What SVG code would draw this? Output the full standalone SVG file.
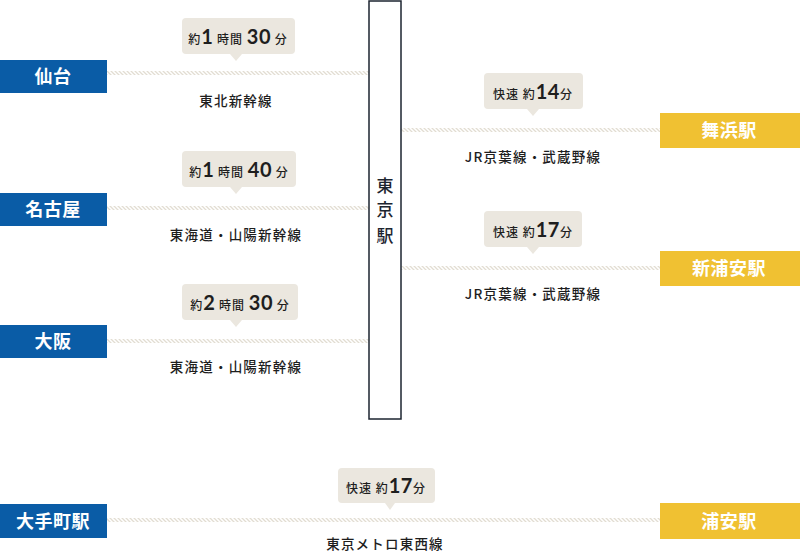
<svg xmlns="http://www.w3.org/2000/svg" width="800" height="554" viewBox="0 0 800 554">
  <defs>
    <pattern id="hatch" patternUnits="userSpaceOnUse" width="4" height="4">
      <path d="M-1,-1 L5,5 M-1,3 L1,5 M3,-1 L5,1" stroke="#e2ddd2" stroke-width="1.3"/>
    </pattern>
    <style>
      .st-blue { fill: #0a5ca6; }
      .st-yellow { fill: #f0c132; }
      .st-label { font-family: "Noto Sans CJK JP", "Noto Sans", sans-serif; font-size: 18px; font-weight: 700; fill: #ffffff; text-anchor: middle; letter-spacing: 0.5px; }
      .bubble { fill: #ebe7df; }
      .btxt { font-family: "Noto Sans CJK JP", "Noto Sans", sans-serif; font-size: 12px; font-weight: 500; fill: #1e1e1e; text-anchor: middle; letter-spacing: 1px; }
      .num { font-family: "Lato", "Inter", sans-serif; font-size: 20px; font-weight: 700; letter-spacing: 0.5px; }
      .line-name { font-family: "Noto Sans CJK JP", "Noto Sans", sans-serif; font-size: 13.5px; font-weight: 500; fill: #1e1e1e; text-anchor: middle; letter-spacing: 1.2px; }
      .track { fill: url(#hatch); }
      .hub-text { font-family: "Noto Sans CJK JP", "Noto Sans", sans-serif; font-size: 17px; font-weight: 500; fill: #1d2530; text-anchor: middle; }
    </style>
  </defs>

  <!-- track lines -->
  <g id="connectors">
    <rect class="track" x="107" y="71" width="262" height="4"/>
    <rect class="track" x="107" y="206" width="262" height="4"/>
    <rect class="track" x="107" y="339" width="262" height="4"/>
    <rect class="track" x="401" y="128" width="259" height="4"/>
    <rect class="track" x="401" y="266" width="259" height="4"/>
    <rect class="track" x="107" y="518" width="553" height="4"/>
  </g>

  <!-- Tokyo station hub -->
  <g id="tokyo">
    <rect x="369" y="1" width="32" height="418" fill="#ffffff" stroke="#1d2530" stroke-width="1.5"/>
    <text class="hub-text" x="385" y="192">東</text>
    <text class="hub-text" x="385" y="216">京</text>
    <text class="hub-text" x="385" y="242">駅</text>
  </g>

  <!-- left stations -->
  <g id="sendai">
    <rect class="st-blue" x="0" y="60" width="107" height="33"/>
    <text class="st-label" x="53" y="83">仙台</text>
  </g>
  <g id="nagoya">
    <rect class="st-blue" x="0" y="193" width="107" height="33"/>
    <text class="st-label" x="53" y="216">名古屋</text>
  </g>
  <g id="osaka">
    <rect class="st-blue" x="0" y="325" width="107" height="33"/>
    <text class="st-label" x="53" y="348">大阪</text>
  </g>
  <g id="otemachi">
    <rect class="st-blue" x="0" y="504" width="107" height="34"/>
    <text class="st-label" x="53" y="528">大手町駅</text>
  </g>

  <!-- right stations -->
  <g id="maihama">
    <rect class="st-yellow" x="660" y="113" width="140" height="35"/>
    <text class="st-label" x="729" y="137">舞浜駅</text>
  </g>
  <g id="shin-urayasu">
    <rect class="st-yellow" x="660" y="251" width="140" height="35"/>
    <text class="st-label" x="729" y="275">新浦安駅</text>
  </g>
  <g id="urayasu">
    <rect class="st-yellow" x="660" y="503" width="140" height="36"/>
    <text class="st-label" x="729" y="528">浦安駅</text>
  </g>

  <!-- travel time bubbles -->
  <g id="time-sendai">
    <rect class="bubble" x="182" y="18" width="113" height="36" rx="4"/>
    <path class="bubble" d="M230,54 L236,61 L242,54 Z"/>
    <text class="btxt" x="238" y="44">約<tspan class="num">1</tspan> 時間 <tspan class="num">30</tspan> 分</text>
  </g>
  <g id="time-nagoya">
    <rect class="bubble" x="182" y="151" width="114" height="36" rx="4"/>
    <path class="bubble" d="M230,187 L236,194 L242,187 Z"/>
    <text class="btxt" x="239" y="177">約<tspan class="num">1</tspan> 時間 <tspan class="num">40</tspan> 分</text>
  </g>
  <g id="time-osaka">
    <rect class="bubble" x="182" y="284" width="116" height="36" rx="4"/>
    <path class="bubble" d="M230,320 L236,327 L242,320 Z"/>
    <text class="btxt" x="240" y="310">約<tspan class="num">2</tspan> 時間 <tspan class="num">30</tspan> 分</text>
  </g>
  <g id="time-maihama">
    <rect class="bubble" x="484" y="73" width="99" height="36" rx="4"/>
    <path class="bubble" d="M527,109 L533,116 L539,109 Z"/>
    <text class="btxt" x="533" y="99">快速 約<tspan class="num">14</tspan>分</text>
  </g>
  <g id="time-shin-urayasu">
    <rect class="bubble" x="484" y="211" width="98" height="36" rx="4"/>
    <path class="bubble" d="M527,247 L533,254 L539,247 Z"/>
    <text class="btxt" x="533" y="237">快速 約<tspan class="num">17</tspan>分</text>
  </g>
  <g id="time-urayasu">
    <rect class="bubble" x="338" y="468" width="97" height="35" rx="4"/>
    <path class="bubble" d="M385,503 L390,510 L395,503 Z"/>
    <text class="btxt" x="386" y="493">快速 約<tspan class="num">17</tspan>分</text>
  </g>

  <!-- line names -->
  <g id="line-names">
    <text class="line-name" x="236" y="106">東北新幹線</text>
    <text class="line-name" x="236" y="240">東海道・山陽新幹線</text>
    <text class="line-name" x="236" y="372">東海道・山陽新幹線</text>
    <text class="line-name" x="533" y="162">JR京葉線・武蔵野線</text>
    <text class="line-name" x="533" y="299">JR京葉線・武蔵野線</text>
    <text class="line-name" x="385" y="549">東京メトロ東西線</text>
  </g>
</svg>
